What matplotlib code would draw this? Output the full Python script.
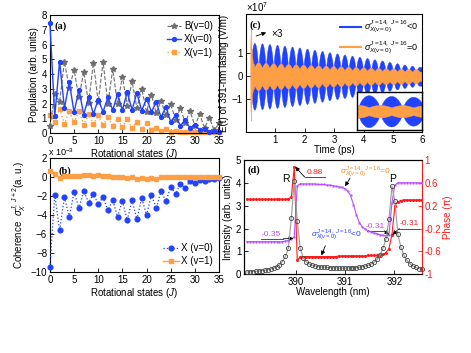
import numpy as np
import matplotlib.pyplot as plt
from matplotlib.lines import Line2D

plt.rcParams['font.family'] = ['Liberation Sans', 'DejaVu Sans']
plt.rcParams['mathtext.fontset'] = 'custom'
plt.rcParams['mathtext.rm'] = 'Liberation Sans'
plt.rcParams['mathtext.it'] = 'Liberation Sans:italic'
plt.rcParams['mathtext.bf'] = 'Liberation Sans:bold'
plt.rcParams['axes.linewidth'] = 0.8

BLUE = '#2142ff'
ORANGE = '#ff9f45'
GREY = '#6e6e6e'
PURPLE = '#b94dff'
RED = '#ff1a1a'

# ---- (a) populations ----
rot_states = list(range(36))
pop_B = [0.48, 2.63, 2.13, 4.85, 3.04, 4.29, 2.43, 4.15, 2.05, 4.78,
         2.10, 4.83, 2.00, 4.33, 1.95, 3.83, 1.85, 3.51, 1.70, 3.02,
         1.45, 2.60, 1.35, 2.20, 1.20, 1.97, 0.90, 1.68, 0.70, 1.50,
         0.50, 1.27, 0.35, 1.02, 0.20, 0.66]
pop_X0 = [7.45, 1.15, 4.85, 1.68, 3.47, 1.40, 2.95, 1.25, 2.45, 1.30,
          2.27, 1.45, 2.43, 1.56, 2.65, 1.56, 2.77, 1.59, 2.72, 1.52,
          2.34, 1.45, 2.09, 1.07, 1.79, 0.77, 1.20, 0.50, 0.88, 0.34,
          0.54, 0.23, 0.27, 0.09, 0.14, 0.05]
pop_X1 = [1.22, 0.77, 1.65, 0.63, 1.47, 0.72, 1.47, 0.57, 1.27, 0.63,
          1.22, 0.52, 1.10, 0.48, 0.93, 0.43, 0.93, 0.36, 0.75, 0.27,
          0.66, 0.20, 0.36, 0.16, 0.27, 0.07, 0.16, 0.06, 0.08, 0.05,
          0.06, 0.05, 0.05, 0.04, 0.04, 0.04]

# ---- (b) coherence (x 1e-3) ----
coh_X0 = [-9.47, -1.84, -5.60, -2.12, -4.20, -1.55, -3.30, -1.48, -2.69, -1.80,
          -2.83, -2.12, -3.50, -2.44, -4.17, -2.51, -4.52, -2.44, -4.45, -2.20,
          -4.00, -1.87, -3.30, -1.48, -2.51, -1.06, -1.77, -0.70, -1.13, -0.46,
          -0.67, -0.28, -0.39, -0.20, -0.20, -0.14]
coh_X1 = [0.64, 0.35, -0.10, 0.10, 0.12, 0.15, 0.12, 0.20, 0.20, 0.15,
          0.20, 0.10, 0.10, 0.00, -0.05, -0.05, -0.10, -0.05, -0.20, -0.10,
          -0.25, -0.10, -0.20, -0.05, -0.05, 0.00, -0.05, 0.05, 0.00, 0.05,
          0.05, 0.05, 0.05, 0.05, 0.05, 0.05]

# ---- (c) lasing field, lobe envelopes (x 1e7 V/m) ----
lobe_t = [0.29, 0.55, 0.80, 1.06, 1.31, 1.57, 1.82, 2.08, 2.33, 2.59, 2.84, 3.10,
          3.35, 3.61, 3.86, 4.12, 4.37, 4.63, 4.88, 5.14, 5.39, 5.65, 5.90]
blue_amp = [1.46, 1.44, 1.41, 1.38, 1.34, 1.30, 1.26, 1.21, 1.16, 1.11, 1.05, 1.00,
            0.95, 0.90, 0.85, 0.80, 0.74, 0.69, 0.63, 0.57, 0.51, 0.46, 0.41]
orange_hi = [0.62, 0.60, 0.58, 0.57, 0.55, 0.53, 0.52, 0.50, 0.49, 0.47, 0.46, 0.44,
             0.43, 0.41, 0.40, 0.38, 0.37, 0.36, 0.35, 0.34, 0.33, 0.32, 0.31]
orange_lo = [0.40, 0.38, 0.37, 0.36, 0.35, 0.34, 0.33, 0.32, 0.31, 0.30, 0.29, 0.28,
             0.27, 0.26, 0.25, 0.24, 0.23, 0.23, 0.22, 0.21, 0.21, 0.20, 0.20]
spike_t = [0.12, 0.15, 0.17, 0.19, 0.21, 0.24, 0.28]
spike_top = [0.3, 1.4, 2.15, 1.3, 0.9, 0.6, 0.5]
spike_bot = [0.3, 1.3, 1.95, 1.2, 0.8, 0.6, 0.5]

# ---- (d) spectra and phases ----
wavelength = [389.01, 389.07, 389.13, 389.19, 389.25, 389.31, 389.37, 389.43, 389.49, 389.55,
              389.61, 389.67, 389.73, 389.79, 389.85, 389.91, 389.97, 390.03, 390.09, 390.15,
              390.21, 390.27, 390.33, 390.39, 390.45, 390.51, 390.57, 390.63, 390.69, 390.75,
              390.81, 390.87, 390.93, 390.99, 391.05, 391.11, 391.17, 391.23, 391.29, 391.35,
              391.41, 391.47, 391.53, 391.59, 391.65, 391.71, 391.77, 391.83, 391.89, 391.95,
              392.01, 392.07, 392.13, 392.19, 392.25, 392.31, 392.37, 392.43, 392.49, 392.55]
intensity = [0.10, 0.11, 0.12, 0.13, 0.14, 0.16, 0.18, 0.20, 0.23, 0.27,
             0.33, 0.41, 0.55, 0.78, 1.15, 2.45, 4.08, 2.35, 1.15, 0.72,
             0.55, 0.45, 0.40, 0.37, 0.34, 0.32, 0.31, 0.30, 0.29, 0.28,
             0.28, 0.27, 0.27, 0.27, 0.27, 0.28, 0.28, 0.29, 0.31, 0.33,
             0.36, 0.40, 0.45, 0.53, 0.65, 0.85, 1.15, 1.55, 2.40, 3.85,
             3.20, 1.75, 1.20, 0.85, 0.62, 0.47, 0.37, 0.30, 0.25, 0.22]
phase_zero = [-0.43, -0.43, -0.43, -0.43, -0.43, -0.43, -0.43, -0.43, -0.43, -0.43,
              -0.43, -0.43, -0.43, -0.42, -0.41, -0.39, -0.35, 0.55, 0.58, 0.58,
              0.58, 0.58, 0.58, 0.58, 0.57, 0.57, 0.57, 0.56, 0.56, 0.55,
              0.54, 0.53, 0.52, 0.50, 0.46, 0.38, 0.22, 0.04, -0.10, -0.17,
              -0.21, -0.24, -0.26, -0.28, -0.29, -0.31, -0.32, -0.33, -0.31, 0.25,
              0.56, 0.60, 0.60, 0.60, 0.60, 0.60, 0.60, 0.60, 0.60, 0.60]
phase_neg = [0.31, 0.31, 0.31, 0.31, 0.31, 0.31, 0.31, 0.31, 0.31, 0.31,
             0.31, 0.31, 0.31, 0.31, 0.32, 0.35, 0.88, -0.75, -0.70, -0.69,
             -0.69, -0.69, -0.69, -0.69, -0.69, -0.69, -0.69, -0.69, -0.69, -0.69,
             -0.69, -0.68, -0.68, -0.68, -0.68, -0.68, -0.68, -0.68, -0.68, -0.68,
             -0.68, -0.67, -0.67, -0.67, -0.67, -0.66, -0.65, -0.62, -0.55, -0.31,
             0.20, 0.27, 0.29, 0.30, 0.30, 0.30, 0.30, 0.30, 0.30, 0.30]


def style(ax):
    ax.tick_params(direction='in', length=3, width=0.6, labelsize=7, pad=2)


def plabel(ax, s, x, y):
    ax.text(x, y, s, transform=ax.transAxes, fontsize=7.5, fontweight='bold',
            family='Liberation Serif', va='center')


def note(ax, text, color, tx, ty, ux0, ux1, uy, head):
    # underlined label with an arrow from the underline end to the point
    ax.text(tx, ty, text, color=color, fontsize=6, ha='center', va='bottom')
    ax.plot([ux0, ux1], [uy, uy], color='#333333', lw=0.6)
    tail = (ux1, uy) if head[0] > ux1 else (ux0, uy)
    ax.annotate('', xy=head, xytext=tail,
                arrowprops=dict(arrowstyle='-|>', color='k', lw=0.6,
                                mutation_scale=6, shrinkA=0, shrinkB=0))


fig = plt.figure(figsize=(4.71, 3.53), dpi=100)

# (a)
ax_a = fig.add_axes([0.106, 0.623, 0.359, 0.334])
ax_a.plot(rot_states, pop_B, ls='--', color=GREY, lw=0.8, marker='*', ms=4,
          label='B(v=0)', clip_on=False, zorder=3)
ax_a.plot(rot_states, pop_X0, ls='-', color=BLUE, lw=1.0, marker='o', ms=2.8,
          label='X(v=0)', clip_on=False, zorder=4)
ax_a.plot(rot_states, pop_X1, ls=':', color=ORANGE, lw=1.0, marker='s', ms=2.7,
          label='X(v=1)', clip_on=False, zorder=2)
ax_a.set_xlim(0, 35)
ax_a.set_ylim(0, 8)
ax_a.set_xticks(range(0, 36, 5))
ax_a.set_yticks(range(0, 9))
ax_a.set_xlabel('Rotational states ($J$)', fontsize=7, labelpad=1)
ax_a.set_ylabel('Population (arb. units)', fontsize=7, labelpad=2)
style(ax_a)
ax_a.legend(loc='upper right', frameon=False, fontsize=7, handlelength=1.5,
            handletextpad=0.3, labelspacing=0.35, borderaxespad=0.2)
plabel(ax_a, '(a)', 0.03, 0.91)

# (b)
ax_b = fig.add_axes([0.106, 0.2286, 0.359, 0.324])
ax_b.plot(rot_states, coh_X0, ls=':', color=BLUE, lw=0.9, marker='o', ms=3.4,
          label='X (v=0)', clip_on=False, zorder=3)
ax_b.plot(rot_states, coh_X1, ls='-', color=ORANGE, lw=1.0, marker='s', ms=2.7,
          label='X (v=1)', clip_on=False, zorder=4)
ax_b.set_xlim(0, 35)
ax_b.set_ylim(-10, 2)
ax_b.set_xticks(range(0, 36, 5))
ax_b.set_yticks(range(-10, 3, 2))
ax_b.set_xlabel('Rotational states ($J$)', fontsize=7, labelpad=1)
ax_b.set_ylabel(r'Coherence  $\sigma_X^{J,\ J+2}$(a. u.)', fontsize=7, labelpad=2)
style(ax_b)
ax_b.legend(loc='lower right', frameon=False, fontsize=7, handlelength=1.6,
            handletextpad=0.3, labelspacing=0.35, borderaxespad=0.2)
ax_b.text(-0.01, 1.0, r'x 10$^{-3}$', transform=ax_b.transAxes, fontsize=6.5,
          va='bottom')
plabel(ax_b, '(b)', 0.05, 0.88)

# (c)
ax_c = fig.add_axes([0.522, 0.625, 0.375, 0.334])
t = np.linspace(0.15, 6.0, 6000)
k = np.interp(t, lobe_t, np.arange(len(lobe_t)))
early = t < lobe_t[0]
k[early] = (t[early] - lobe_t[0]) / (lobe_t[1] - lobe_t[0])
ph = np.pi * (k + 0.5)
# fat lobes, as the under-sampled carrier looks in the figure
blue_env = np.interp(t, lobe_t, blue_amp) * np.abs(np.sin(ph)) ** 0.55
blue_env[t < 0.16] = 0
o_lo = np.interp(t, lobe_t, orange_lo)
o_hi = np.interp(t, lobe_t, orange_hi)
org_env = o_lo + (o_hi - o_lo) * np.abs(np.cos(ph))
org_top = np.maximum(org_env, np.interp(t, spike_t, spike_top, right=0))
org_bot = np.maximum(org_env, np.interp(t, spike_t, spike_bot, right=0))
ax_c.fill_between(t, -blue_env, blue_env, color=BLUE, lw=0.3)
ax_c.fill_between(t, -org_bot, org_top, color=ORANGE, lw=0.3)
ax_c.set_xlim(0, 6)
ax_c.set_ylim(-2.45, 2.7)
ax_c.set_xticks(range(1, 7))
ax_c.set_yticks([-1, 0, 1])
ax_c.set_xlabel('Time (ps)', fontsize=7, labelpad=0)
ax_c.set_ylabel('E(t) of 391-nm lasing (V/m)', fontsize=7, labelpad=2)
style(ax_c)
ax_c.text(0.0, 1.02, r'$\times$10$^{7}$', transform=ax_c.transAxes, fontsize=7)
handles = [Line2D([], [], color=BLUE, lw=1.5), Line2D([], [], color=ORANGE, lw=1.5)]
ax_c.legend(handles, [r'$\sigma^{J=14,\ J=16}_{X(v=0)}$<0',
                      r'$\sigma^{J=14,\ J=16}_{X(v=0)}$=0'],
            loc='upper right', frameon=False, fontsize=6.5, handlelength=2.3,
            handletextpad=0.3, labelspacing=0.5, borderaxespad=0.1)
ax_c.annotate('', xy=(0.78, 1.95), xytext=(0.26, 1.72),
              arrowprops=dict(arrowstyle='-|>', color='k', lw=0.6, mutation_scale=6))
ax_c.text(0.85, 1.9, r'$\times$3', fontsize=7, va='center')
plabel(ax_c, '(c)', 0.02, 0.91)

# inset of (c)
ax_in = fig.add_axes([0.758, 0.632, 0.137, 0.106])
w0, w1 = lobe_t[8] - 0.135, lobe_t[8] - 0.135 + 0.74
sel = (t >= w0) & (t <= w1)
ax_in.fill_between(t[sel], -blue_env[sel], blue_env[sel], color=BLUE, lw=0.3)
ax_in.fill_between(t[sel], -org_env[sel] * 0.95, org_env[sel] * 0.95, color=ORANGE, lw=0.3)
ax_in.set_xlim(w0, w1)
ax_in.set_ylim(-1.36, 1.36)
ax_in.set_xticks([])
ax_in.set_yticks([])
for s in ax_in.spines.values():
    s.set_linewidth(1.0)

# (d)
ax_d = fig.add_axes([0.518, 0.223, 0.378, 0.324])
ax_d2 = ax_d.twinx()
ax_d.plot(wavelength, intensity, color='#9a9a9a', lw=0.8, marker='o', ms=3,
          mfc='none', mec='#444444', mew=0.6, zorder=5, clip_on=False)
ax_d2.plot(wavelength, phase_zero, color=PURPLE, lw=0.8, marker='s', ms=2,
           mec='none', zorder=3)
ax_d2.plot(wavelength, phase_neg, color=RED, lw=0.8, marker='o', ms=2.2,
           mec='none', zorder=2)
ax_d.set_zorder(ax_d2.get_zorder() + 1)
ax_d.patch.set_visible(False)
ax_d.set_xlim(388.95, 392.56)
ax_d.set_ylim(0, 5)
ax_d2.set_ylim(-1, 1)
ax_d.set_xticks([390, 391, 392])
ax_d.set_yticks(range(0, 6))
ax_d2.set_yticks([-1, -0.6, -0.2, 0.2, 0.6, 1])
ax_d2.set_yticklabels(['-1', '-0.6', '-0.2', '0.2', '0.6', '1'])
style(ax_d)
style(ax_d2)
ax_d2.tick_params(axis='y', colors=RED, labelcolor=RED)
ax_d2.spines['right'].set_color(RED)
ax_d.spines['right'].set_visible(False)
ax_d.set_xlabel('Wavelength (nm)', fontsize=7, labelpad=0)
ax_d.set_ylabel('Intensity (arb. units)', fontsize=7, labelpad=2)
ax_d2.set_ylabel('Phase (π)', fontsize=7, color=RED, labelpad=1)
ax_d.text(389.8, 3.95, 'R', fontsize=7.5, ha='center', va='bottom')
ax_d.text(391.97, 3.95, 'P', fontsize=7.5, ha='center', va='bottom')
plabel(ax_d, '(d)', 0.02, 0.91)

note(ax_d2, '0.88', RED, 390.38, 0.72, 390.18, 390.6, 0.7, (389.99, 0.88))
note(ax_d2, '-0.35', PURPLE, 389.5, -0.36, 389.3, 389.75, -0.38, (389.95, -0.37))
note(ax_d2, '-0.31', PURPLE, 391.62, -0.22, 391.45, 391.8, -0.24, (391.89, -0.31))
note(ax_d2, '-0.31', RED, 392.3, -0.18, 392.1, 392.5, -0.2, (391.96, -0.31))
ax_d2.text(390.9, 0.67, r'$\sigma^{J=14,\ J=16}_{X(v=0)}$=0', color='#f08a20',
           fontsize=6, ha='left', va='bottom')
ax_d2.annotate('', xy=(391.0, 0.54), xytext=(391.1, 0.68),
               arrowprops=dict(arrowstyle='-|>', color='k', lw=0.6, mutation_scale=6,
                               shrinkA=0, shrinkB=0))
ax_d2.text(390.3, -0.44, r'$\sigma^{J=14,\ J=16}_{X(v=0)}$<0', color=BLUE,
           fontsize=6, ha='left', va='bottom')
ax_d2.annotate('', xy=(390.52, -0.67), xytext=(390.6, -0.5),
               arrowprops=dict(arrowstyle='-|>', color='k', lw=0.6, mutation_scale=6,
                               shrinkA=0, shrinkB=0))

fig.savefig('out.png', dpi=100)
